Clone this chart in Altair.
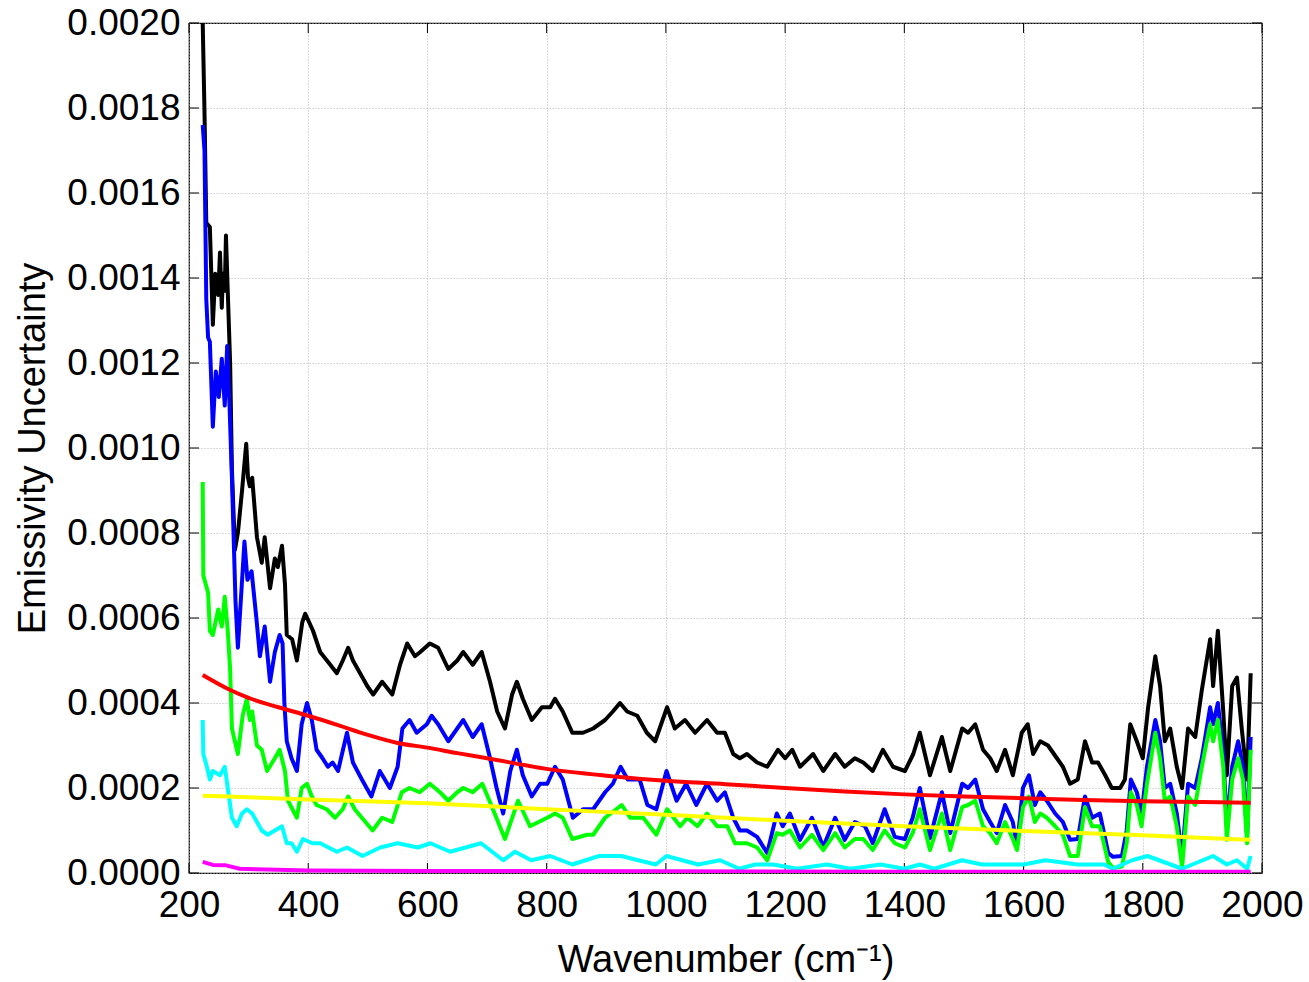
import altair as alt
import pandas as pd

# ---------------- data ----------------
black_x = [223, 226, 229, 235, 240, 244, 249, 252, 255, 257, 260, 262, 265, 269, 272, 277, 282, 289, 296, 299,
           302, 306, 314, 322, 327, 336, 344, 349, 356, 361, 364, 373, 381, 390, 395, 408, 420, 437, 448, 458,
           467, 475, 487, 499, 509, 524, 541, 554, 566, 579, 588, 604, 618, 635, 650, 660, 676, 691, 705, 717,
           730, 742, 750, 760, 775, 792, 806, 814, 827, 843, 861, 878, 898, 911, 923, 935, 952, 968, 982, 1002,
           1015, 1032, 1049, 1069, 1086, 1099, 1113, 1124, 1136, 1153, 1170, 1188, 1200, 1212, 1225, 1247, 1264,
           1284, 1300, 1317, 1331, 1347, 1364, 1381, 1401, 1415, 1426, 1443, 1463, 1477, 1497, 1507, 1519, 1532,
           1544, 1555, 1569, 1582, 1597, 1607, 1616, 1628, 1641, 1656, 1666, 1678, 1691, 1703, 1715, 1725, 1737,
           1748, 1762, 1770, 1779, 1790, 1800, 1809, 1821, 1829, 1837, 1846, 1857, 1866, 1876, 1888, 1899, 1913,
           1918, 1926, 1935, 1941, 1950, 1958, 1966, 1975, 1981]
black_y = [0.00200, 0.00179, 0.00153, 0.00152, 0.00129, 0.00141, 0.00136, 0.00146, 0.00133, 0.00141, 0.00137,
           0.00150, 0.00137, 0.00120, 0.00095, 0.00076, 0.00080, 0.00090, 0.00101, 0.00093, 0.00091, 0.00093,
           0.00079, 0.00073, 0.00079, 0.00067, 0.00074, 0.00072, 0.00077, 0.00068, 0.00056, 0.00055, 0.00050,
           0.00059, 0.00061, 0.00057, 0.00052, 0.00049, 0.00047, 0.00050, 0.00053, 0.00050, 0.00047, 0.00044,
           0.00042, 0.00045, 0.00042, 0.00049, 0.00054, 0.00051, 0.00052, 0.00054, 0.00053, 0.00048, 0.00050,
           0.00052, 0.00049, 0.00052, 0.00045, 0.00038, 0.00034, 0.00042, 0.00045, 0.00041, 0.00036, 0.00039,
           0.00039, 0.00041, 0.00038, 0.00033, 0.00033, 0.00034, 0.00036, 0.00038, 0.00040, 0.00038, 0.00037,
           0.00033, 0.00031, 0.00039, 0.00034, 0.00036, 0.00033, 0.00036, 0.00033, 0.00033, 0.00028, 0.00027,
           0.00028, 0.00026, 0.00025, 0.00029, 0.00027, 0.00029, 0.00025, 0.00028, 0.00024, 0.00028, 0.00025,
           0.00027, 0.00026, 0.00024, 0.00029, 0.00025, 0.00024, 0.00028, 0.00033, 0.00023, 0.00032, 0.00024,
           0.00034, 0.00033, 0.00035, 0.00029, 0.00027, 0.00024, 0.00029, 0.00023, 0.00033, 0.00035, 0.00028,
           0.00031, 0.00030, 0.00027, 0.00025, 0.00021, 0.00022, 0.00031, 0.00026, 0.00026, 0.00023, 0.00020,
           0.00020, 0.00022, 0.00035, 0.00031, 0.00027, 0.00039, 0.00051, 0.00044, 0.00031, 0.00034, 0.00025,
           0.00020, 0.00034, 0.00032, 0.00043, 0.00055, 0.00044, 0.00057, 0.00038, 0.00023, 0.00044, 0.00046,
           0.00034, 0.00022, 0.00047]

blue_x = [223, 226, 229, 232, 235, 240, 245, 250, 255, 260, 264, 268, 272, 278, 282, 286, 293, 298, 305, 313,
          319, 327, 336, 344, 352, 357, 360, 364, 372, 381, 389, 398, 406, 414, 424, 433, 441, 450, 465, 475,
          490, 506, 520, 537, 550, 558, 570, 582, 599, 607, 618, 635, 650, 660, 676, 691, 705, 716, 727, 739,
          750, 760, 775, 789, 801, 814, 827, 844, 861, 878, 898, 911, 924, 936, 956, 969, 984, 1001, 1018, 1034,
          1051, 1069, 1086, 1099, 1113, 1124, 1136, 1153, 1170, 1186, 1196, 1208, 1225, 1245, 1264, 1284, 1300,
          1317, 1334, 1347, 1367, 1384, 1401, 1414, 1426, 1443, 1463, 1477, 1497, 1507, 1519, 1532, 1544, 1555,
          1569, 1582, 1589, 1599, 1609, 1619, 1628, 1639, 1653, 1666, 1678, 1691, 1703, 1715, 1728, 1742, 1750,
          1765, 1773, 1780, 1790, 1798, 1807, 1821, 1829, 1837, 1846, 1857, 1866, 1876, 1888, 1899, 1913, 1918,
          1926, 1935, 1941, 1950, 1960, 1968, 1975, 1981]
blue_y = [0.00176, 0.00170, 0.00135, 0.00126, 0.00125, 0.00105, 0.00118, 0.00112, 0.00121, 0.00110, 0.00124,
          0.00110, 0.00093, 0.00064, 0.00053, 0.00062, 0.00078, 0.00069, 0.00071, 0.00060, 0.00051, 0.00058,
          0.00045, 0.00052, 0.00056, 0.00054, 0.00040, 0.00031, 0.00027, 0.00024, 0.00035, 0.00040, 0.00036,
          0.00029, 0.00027, 0.00025, 0.00026, 0.00024, 0.00033, 0.00026, 0.00022, 0.00018, 0.00024, 0.00020,
          0.00025, 0.00034, 0.00036, 0.00033, 0.00035, 0.00037, 0.00035, 0.00031, 0.00034, 0.00036, 0.00032,
          0.00035, 0.00027, 0.00020, 0.00014, 0.00024, 0.00029, 0.00023, 0.00018, 0.00021, 0.00021, 0.00025,
          0.00022, 0.00013, 0.00015, 0.00015, 0.00019, 0.00021, 0.00025, 0.00022, 0.00022, 0.00016, 0.00015,
          0.00024, 0.00017, 0.00021, 0.00016, 0.00021, 0.00017, 0.00019, 0.00013, 0.00010, 0.00010, 0.000085,
          0.000047, 0.00014, 0.00011, 0.00014, 0.000078, 0.00013, 0.000061, 0.00013, 0.000078, 0.00012, 0.00011,
          0.00007, 0.00015, 0.000085, 0.00008, 0.00013, 0.00020, 0.000082, 0.00019, 0.000094, 0.00021, 0.00020,
          0.00022, 0.00015, 0.00012, 0.000094, 0.00016, 0.00012, 0.000061, 0.00020, 0.00023, 0.00016, 0.00019,
          0.00017, 0.00014, 0.00012, 0.000078, 0.00008, 0.00018, 0.00013, 0.00014, 0.000047, 0.000038, 0.00004,
          0.00010, 0.00022, 0.00019, 0.00014, 0.00025, 0.00036, 0.00031, 0.00020, 0.00021, 0.00014, 0.000038,
          0.00021, 0.00020, 0.00027, 0.00039, 0.00035, 0.00040, 0.00028, 0.00011, 0.00025, 0.00031, 0.00025,
          0.000085, 0.00032]

green_x = [223, 224, 232, 235, 240, 249, 255, 260, 265, 269, 272, 282, 290, 297, 302, 306, 314, 322, 331, 344,
           352, 361, 366, 381, 389, 398, 406, 414, 431, 445, 458, 467, 478, 490, 508, 524, 541, 557, 570, 587,
           604, 621, 635, 650, 660, 676, 692, 707, 730, 752, 772, 801, 814, 827, 843, 868, 878, 898, 926, 940,
           962, 984, 1002, 1024, 1036, 1053, 1069, 1086, 1103, 1116, 1136, 1153, 1170, 1186, 1196, 1208, 1225,
           1245, 1264, 1284, 1300, 1317, 1331, 1347, 1367, 1384, 1401, 1414, 1426, 1443, 1463, 1477, 1497, 1507,
           1519, 1532, 1544, 1555, 1569, 1582, 1589, 1599, 1609, 1619, 1628, 1639, 1653, 1666, 1678, 1691, 1703,
           1715, 1728, 1742, 1750, 1765, 1773, 1780, 1790, 1798, 1807, 1821, 1829, 1837, 1846, 1857, 1866, 1876,
           1888, 1899, 1913, 1918, 1926, 1935, 1941, 1950, 1960, 1968, 1975, 1981]
green_y = [0.00092, 0.00070, 0.00066, 0.00057, 0.00056, 0.00062, 0.00058, 0.00065, 0.00057, 0.00048, 0.00034,
           0.00028, 0.00037, 0.00041, 0.00036, 0.00038, 0.00030, 0.00029, 0.00024, 0.00027, 0.00029, 0.00024,
           0.00017, 0.00013, 0.00020, 0.00021, 0.00018, 0.00016, 0.00015, 0.00013, 0.00015, 0.00018, 0.00015,
           0.00013, 0.00010, 0.00013, 0.00012, 0.00019, 0.00020, 0.00019, 0.00021, 0.00019, 0.00017, 0.00019,
           0.00020, 0.00019, 0.00021, 0.00016, 0.00008, 0.00017, 0.00011, 0.00013, 0.00014, 0.00013, 0.00008,
           0.00009, 0.00009, 0.00013, 0.00016, 0.00013, 0.00013, 0.00009, 0.00015, 0.00011, 0.00013, 0.00011,
           0.00014, 0.00011, 0.00011, 0.00007, 0.00007, 0.00006, 0.00003, 0.000094, 0.00009, 0.00010, 0.00006,
           0.00009, 0.000054, 0.000094, 0.00006, 0.00008, 0.00008, 0.000054, 0.00010, 0.00007, 0.00006, 0.000094,
           0.00015, 0.000054, 0.00014, 0.000054, 0.000155, 0.00016, 0.00017, 0.00011, 0.000094, 0.00007, 0.00012,
           0.00008, 0.000054, 0.000155, 0.00018, 0.00012, 0.00014, 0.00013, 0.00011, 0.00009, 0.00004, 0.00004,
           0.000155, 0.00011, 0.00011, 0.000026, 0.000012, 0.000015, 0.00007, 0.00019, 0.00016, 0.00011, 0.00021,
           0.00033, 0.00027, 0.00017, 0.00018, 0.00011, 0.000014, 0.00018, 0.00016, 0.00025, 0.00035, 0.00031,
           0.00036, 0.00025, 0.000078, 0.00022, 0.00027, 0.00022, 0.00007, 0.00029]

cyan_x = [223, 224, 230, 235, 240, 252, 260, 265, 272, 280, 289, 297, 306, 314, 322, 332, 344, 356, 364, 372,
          381, 391, 407, 420, 448, 465, 491, 521, 550, 584, 605, 638, 690, 727, 747, 774, 806, 843, 888, 925,
          983, 1001, 1054, 1091, 1123, 1150, 1180, 1220, 1270, 1310, 1360, 1400, 1426, 1450, 1497, 1530, 1560,
          1600, 1637, 1690, 1735, 1750, 1782, 1808, 1866, 1918, 1941, 1958, 1975, 1981]
cyan_y = [0.00036, 0.00028, 0.00025, 0.00022, 0.00024, 0.00023, 0.00025, 0.00020, 0.00013, 0.00011, 0.00014,
          0.00015, 0.00014, 0.00012, 0.00010, 0.00009, 0.00010, 0.00011, 0.00007, 0.00007, 0.00005, 0.00008,
          0.00007, 0.00007, 0.00005, 0.00006, 0.00004, 0.00006, 0.00007, 0.00006, 0.00007, 0.00005, 0.00007,
          0.00003, 0.00005, 0.00003, 0.00004, 0.00002, 0.00004, 0.00004, 0.00002, 0.00004, 0.00002, 0.00003,
          0.00001, 0.00002, 0.00002, 0.00001, 0.00002, 0.00001, 0.00002, 0.00001, 0.00002, 0.00001, 0.00003,
          0.00002, 0.00002, 0.00002, 0.00003, 0.00002, 0.00002, 0.00001, 0.00003, 0.00004, 0.00001, 0.00004,
          0.00002, 0.00003, 0.00001, 0.00004]

magenta_x = [223, 240, 262, 285, 330, 400, 600, 1000, 1400, 1981]
magenta_y = [0.000026, 0.000019, 0.000018, 0.000010, 0.000008, 0.000006, 0.000005, 0.000004, 0.000003, 0.000003]

red_x = [223, 270, 300, 350, 400, 450, 500, 550, 600, 650, 700, 800, 900, 1000, 1100, 1200, 1300, 1400, 1500,
         1600, 1700, 1800, 1900, 1981]
red_y = [0.000466, 0.000430, 0.000412, 0.000390, 0.000370, 0.000348, 0.000325, 0.000306, 0.000295, 0.000282,
         0.000270, 0.000245, 0.000229, 0.000217, 0.000209, 0.000200, 0.000192, 0.000185, 0.000180, 0.000176,
         0.000172, 0.000169, 0.000167, 0.000165]

yellow_x = [223, 400, 600, 800, 1000, 1200, 1400, 1600, 1800, 1981]
yellow_y = [0.000182, 0.000173, 0.000164, 0.000150, 0.000137, 0.000123, 0.000110, 0.000099, 0.000089, 0.000078]

x_ticks = [200, 400, 600, 800, 1000, 1200, 1400, 1600, 1800, 2000]
y_ticks = [0.0, 0.0002, 0.0004, 0.0006, 0.0008, 0.0010, 0.0012, 0.0014, 0.0016, 0.0018, 0.0020]

# ---------------- chart ----------------
W, H = 1073, 850
FONT = "Liberation Sans"

xscale = alt.Scale(domain=[200, 2000], nice=False, zero=False)
yscale = alt.Scale(domain=[0, 0.002], nice=False, zero=True)

x_axis = alt.Axis(values=x_ticks, format="d", title="Wavenumber (cm\u207b\u00b9)", grid=True,
                  gridColor="#b4b4b4", gridDash=[1, 2], gridWidth=1, tickSize=0, domain=False,
                  labelOverlap=False, labelFlush=False, labelBound=False,
                  labelFontSize=37, labelFont=FONT, labelColor="black", labelPadding=14,
                  titleFontSize=38, titleFont=FONT, titleFontWeight="normal", titleColor="black",
                  titlePadding=18)
y_axis = alt.Axis(values=y_ticks, format=".4f", title="Emissivity Uncertainty", grid=True,
                  gridColor="#b4b4b4", gridDash=[1, 2], gridWidth=1, tickSize=0, domain=False,
                  labelOverlap=False, labelFlush=False, labelBound=False,
                  labelFontSize=37, labelFont=FONT, labelColor="black", labelPadding=9,
                  titleFontSize=38, titleFont=FONT, titleFontWeight="normal", titleColor="black",
                  titlePadding=14)

X = alt.X("x:Q", scale=xscale, axis=x_axis)
Y = alt.Y("y:Q", scale=yscale, axis=y_axis)


def series(xs, ys, color, interp="linear", width=4):
    df = pd.DataFrame({"x": xs, "y": ys})
    return alt.Chart(df).mark_line(color=color, strokeWidth=width, interpolate=interp,
                                   clip=True, strokeJoin="round").encode(x=X, y=Y)


xt = pd.DataFrame({"x": x_ticks})
yt = pd.DataFrame({"y": y_ticks})
tick_bottom = alt.Chart(xt).mark_rule(color="black", strokeWidth=1).encode(
    x=X, y=alt.value(H), y2=alt.value(H - 10))
tick_top = alt.Chart(xt).mark_rule(color="black", strokeWidth=1).encode(
    x=X, y=alt.value(0), y2=alt.value(10))
tick_left = alt.Chart(yt).mark_rule(color="black", strokeWidth=1).encode(
    y=Y, x=alt.value(0), x2=alt.value(10))
tick_right = alt.Chart(yt).mark_rule(color="black", strokeWidth=1).encode(
    y=Y, x=alt.value(W), x2=alt.value(W - 10))

chart = alt.layer(
    tick_bottom, tick_top, tick_left, tick_right,
    series(black_x, black_y, "#000000"),
    series(blue_x, blue_y, "#0000ff"),
    series(green_x, green_y, "#00ff00"),
    series(cyan_x, cyan_y, "#00ffff"),
    series(magenta_x, magenta_y, "#ff00ff"),
    series(red_x, red_y, "#ff0000", interp="monotone"),
    series(yellow_x, yellow_y, "#ffff00", interp="monotone"),
).properties(
    width=W, height=H,
    autosize=alt.AutoSizeParams(type="none"),
    padding={"left": 189, "top": 23, "right": 47, "bottom": 109},
    background="white",
).configure_view(stroke="black", strokeWidth=1.2)

chart.save("out.html", embed_options={"renderer": "svg", "actions": False})
